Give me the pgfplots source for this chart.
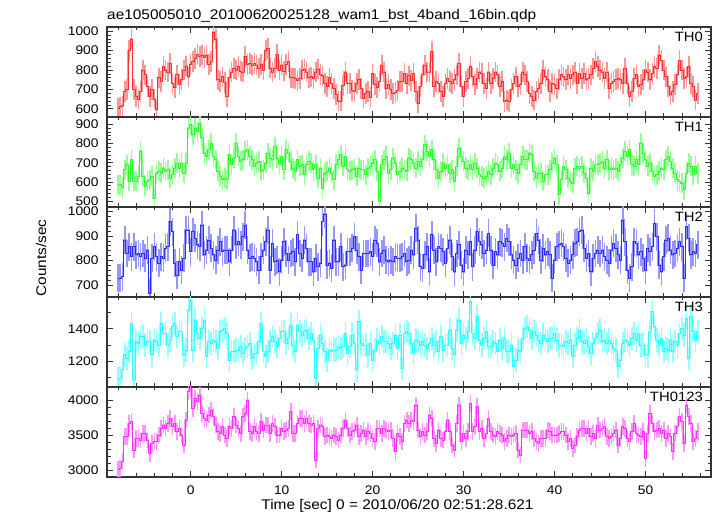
\documentclass[border=0pt]{standalone}
\usepackage{fontspec}
\setmainfont{Liberation Sans}[FakeStretch=1.1]
\usepackage{pgfplots}
\pgfplotsset{compat=1.18}
\usepackage{pgfplotstable}
\definecolor{cR}{RGB}{255,45,45}
\definecolor{cG}{RGB}{45,255,45}
\definecolor{cB}{RGB}{45,45,255}
\definecolor{cC}{RGB}{45,255,255}
\definecolor{cM}{RGB}{255,45,255}
\pgfplotstableread{
t a b c d e
-8.00 603 586 727 1090 3010
-7.75 610 586 727 1096 3024
-7.50 615 570 734 1147 3120
-7.25 690 664 884 1239 3481
-7.00 700 690 829 1218 3481
-6.75 900 603 857 1259 3673
-6.50 960 715 816 1433 3697
-6.25 700 603 857 1086 3288
-6.00 665 603 823 1320 3457
-5.75 650 630 829 1310 3457
-5.50 690 760 816 1351 3433
-5.25 800 630 829 1351 3529
-5.00 775 578 809 1300 3529
-4.75 715 603 843 1320 3433
-4.50 665 612 666 1320 3240
-4.25 700 630 809 1239 3385
-4.00 650 517 857 1330 3409
-3.75 595 647 816 1320 3409
-3.50 760 655 789 1300 3505
-3.25 740 647 816 1433 3601
-3.00 817 672 809 1371 3649
-2.75 800 655 850 1371 3601
-2.50 790 664 857 1300 3673
-2.25 835 621 959 1330 3745
-2.00 730 638 918 1412 3625
-1.75 710 672 789 1433 3673
-1.50 775 698 741 1351 3553
-1.25 725 672 795 1382 3601
-1.00 750 698 761 1382 3505
-0.75 800 647 809 1239 3361
-0.50 820 698 925 1269 3721
-0.25 765 880 925 1514 4130
0.00 830 897 836 1576 4178
0.25 845 845 918 1269 3889
0.50 860 880 891 1453 4034
0.75 880 862 864 1371 3986
1.00 870 905 857 1341 4082
1.25 877 830 945 1402 3817
1.50 865 750 823 1453 3745
1.75 877 733 843 1229 3721
2.00 830 767 884 1320 3793
2.25 845 802 850 1310 3865
2.50 995 733 823 1330 3769
2.75 960 715 802 1320 3649
3.00 750 655 843 1280 3553
3.25 740 630 877 1382 3529
3.50 765 612 836 1392 3625
3.75 735 621 843 1402 3505
4.00 665 612 843 1371 3457
4.25 760 741 795 1208 3625
4.50 790 690 843 1259 3601
4.75 808 724 925 1259 3769
5.00 800 802 864 1269 3649
5.25 817 733 877 1269 3601
5.50 795 707 864 1290 3529
5.75 790 715 898 1249 3769
6.00 870 759 945 1280 3817
6.25 830 767 843 1290 4010
6.50 835 733 809 1310 3553
6.75 826 715 816 1218 3529
7.00 835 681 809 1249 3625
7.25 826 698 795 1249 3553
7.50 810 707 761 1320 3529
7.75 830 655 816 1433 3697
8.00 800 664 843 1259 3577
8.25 900 698 877 1229 3649
8.50 910 750 925 1259 3649
8.75 810 724 761 1320 3529
9.00 790 715 870 1351 3673
9.25 810 784 795 1320 3625
9.50 880 724 802 1290 3505
9.75 800 690 754 1341 3505
10.00 826 733 802 1382 3601
10.25 795 664 877 1382 3553
10.50 830 767 829 1310 3577
10.75 843 750 802 1341 3601
11.00 760 707 829 1422 3841
11.25 760 672 836 1300 3529
11.50 757 655 795 1259 3529
11.75 745 715 905 1422 3673
12.00 757 681 829 1382 3745
12.25 800 690 809 1361 3745
12.50 805 638 884 1382 3673
12.75 790 690 850 1392 3745
13.00 760 707 795 1341 3673
13.25 765 698 795 1371 3649
13.50 757 664 754 1330 3673
13.75 790 690 809 1096 3144
14.00 805 621 775 1280 3601
14.25 778 672 789 1361 3649
14.50 770 569 959 1310 3625
14.75 730 647 990 1259 3481
15.00 715 655 782 1208 3505
15.25 760 672 789 1269 3481
15.50 730 647 768 1259 3457
15.75 705 612 884 1269 3505
16.00 675 690 795 1269 3481
16.25 640 715 795 1290 3433
16.50 640 741 857 1280 3505
16.75 720 681 775 1290 3601
17.00 790 733 782 1371 3721
17.25 730 664 836 1249 3601
17.50 730 655 836 1290 3505
17.75 695 664 850 1361 3553
18.00 690 672 898 1310 3577
18.25 730 630 843 1147 3649
18.50 750 672 816 1443 3481
18.75 705 664 761 1310 3529
19.00 655 664 829 1300 3577
19.25 680 638 829 1300 3481
19.50 690 672 829 1239 3553
19.75 660 681 836 1310 3529
20.00 780 698 816 1208 3457
20.25 725 715 884 1269 3409
20.50 710 655 870 1330 3601
20.75 740 500 795 1310 3601
21.00 826 690 829 1351 3529
21.25 790 715 843 1320 3601
21.50 705 733 802 1320 3577
21.75 725 647 795 1310 3553
22.00 700 664 802 1280 3577
22.25 680 724 795 1310 3457
22.50 685 698 816 1361 3264
22.75 695 638 809 1280 3529
23.00 740 655 809 1361 3481
23.25 740 672 816 1157 3409
23.50 783 664 829 1371 3673
23.75 730 655 795 1382 3721
24.00 770 724 802 1371 3673
24.25 745 715 843 1310 3721
24.50 783 698 823 1249 3697
24.75 690 672 932 1330 3937
25.00 630 707 884 1320 3577
25.25 715 681 775 1300 3481
25.50 775 715 768 1320 3553
25.75 826 793 823 1300 3505
26.00 790 759 857 1280 3553
26.25 790 733 754 1310 3793
26.50 895 767 905 1341 3745
26.75 715 715 843 1300 3457
27.00 740 664 795 1320 3385
27.25 730 621 857 1259 3577
27.50 690 655 850 1351 3457
27.75 665 698 836 1269 3433
28.00 730 672 789 1300 3553
28.25 757 690 850 1300 3721
28.50 740 647 884 1392 3553
28.75 730 664 816 1280 3361
29.00 750 603 754 1239 3288
29.25 775 681 829 1392 3673
29.50 835 776 864 1453 3937
29.75 715 733 782 1310 3409
30.00 665 707 754 1361 3529
30.25 740 672 843 1341 3457
30.50 757 664 823 1382 3553
30.75 817 690 877 1565 3961
31.00 765 664 775 1371 3553
31.25 725 698 843 1341 3625
31.50 757 672 918 1473 3913
31.75 790 638 877 1330 3553
32.00 783 630 864 1300 3601
32.25 730 621 829 1341 3457
32.50 705 630 843 1382 3529
32.75 790 655 911 1290 3745
33.00 730 638 843 1290 3553
33.25 757 672 782 1320 3505
33.50 790 698 836 1310 3481
33.75 775 690 823 1259 3553
34.00 715 655 877 1330 3529
34.25 740 672 870 1280 3505
34.50 638 733 857 1341 3409
34.75 645 715 891 1259 3457
35.00 638 750 877 1259 3505
35.25 700 672 823 1300 3481
35.50 730 690 802 1167 3505
35.75 765 664 782 1208 3529
36.00 715 647 809 1269 3288
36.25 725 690 829 1259 3216
36.50 790 733 802 1341 3577
36.75 775 715 857 1402 3577
37.00 740 715 809 1412 3577
37.25 680 750 802 1392 3529
37.50 665 741 823 1341 3553
37.75 645 655 843 1382 3457
38.00 690 621 911 1361 3409
38.25 705 647 884 1330 3385
38.50 730 647 802 1310 3457
38.75 800 603 850 1361 3457
39.00 765 638 823 1341 3457
39.25 750 638 836 1320 3577
39.50 690 664 823 1341 3553
39.75 730 698 727 1341 3505
40.00 725 724 802 1371 3505
40.25 705 690 857 1330 3505
40.50 750 534 864 1300 3529
40.75 775 612 870 1300 3553
41.00 765 681 857 1290 3553
41.25 750 664 809 1320 3505
41.50 775 621 789 1310 3409
41.75 757 603 802 1330 3457
42.00 775 595 823 1229 3312
42.25 790 672 870 1300 3361
42.50 730 681 877 1341 3481
42.75 783 672 918 1392 3577
43.00 757 681 925 1320 3601
43.25 783 647 850 1310 3601
43.50 750 621 809 1330 3529
43.75 757 543 829 1290 3601
44.00 775 672 754 1249 3481
44.25 808 655 809 1310 3529
44.50 843 690 829 1341 3457
44.75 817 690 843 1371 3649
45.00 800 698 829 1392 3577
45.25 790 707 843 1320 3601
45.50 757 672 816 1330 3625
45.75 790 715 802 1310 3481
46.00 705 664 789 1330 3457
46.25 730 672 843 1310 3481
46.50 740 664 870 1280 3529
46.75 750 672 850 1269 3577
47.00 757 655 823 1167 3361
47.25 750 690 802 1208 3457
47.50 730 724 966 1310 3625
47.75 808 759 877 1330 3601
48.00 730 733 761 1320 3457
48.25 665 767 727 1300 3409
48.50 690 690 775 1341 3553
48.75 757 681 877 1371 3673
49.00 775 715 870 1330 3529
49.25 715 690 823 1371 3505
49.50 725 802 836 1300 3481
49.75 750 750 809 1300 3553
50.00 800 715 761 1239 3168
50.25 790 681 850 1239 3529
50.50 750 698 836 1380 3817
50.75 783 655 857 1504 3673
51.00 817 630 952 1412 3553
51.25 808 638 898 1330 3577
51.50 877 655 782 1300 3601
51.75 850 672 754 1341 3529
52.00 800 664 816 1259 3577
52.25 765 715 884 1280 3457
52.50 715 733 891 1269 3529
52.75 672 707 843 1330 3481
53.00 690 672 823 1259 3264
53.25 725 647 829 1320 3529
53.50 775 612 850 1300 3625
53.75 850 603 877 1371 3769
54.00 800 595 857 1402 3697
54.25 757 560 727 1361 3385
54.50 765 647 939 1463 3937
54.75 817 698 891 1218 3769
55.00 730 681 823 1473 3673
55.25 715 638 836 1382 3409
55.50 645 681 829 1330 3457
55.75 680 647 864 1382 3553
}\lc
\pgfplotsset{
  panel/.style={
    scale only axis, width=604pt, height=90pt, anchor=south west,
    xmin=-9.2, xmax=57.2,
    xtick={0,10,...,50}, minor xtick={-8,-6,...,56},
    xticklabels={},
    tick align=inside,
    major tick length=6pt, minor tick length=3.5pt,
    axis line style={line width=1.1pt, black!80},
    major tick style={black!80, line width=0.8pt},
    minor tick style={black!80, line width=0.8pt},
    tick label style={font=\fontsize{12.5}{12.5}\selectfont},
    yticklabel style={xshift=-5pt},
    /pgf/number format/assume math mode=true,
    /pgf/number format/1000 sep={},
    scaled ticks=false,
    clip mode=individual,
  },
}
\tikzset{thlab/.style={anchor=base east, inner sep=0pt, xshift=-8pt, yshift=-15pt, font=\fontsize{13.5}{13.5}\selectfont}}
\newcommand{\panelplot}[3]{%
  \addplot[forget plot, color=#2!50!white, line width=1.5pt, const plot mark mid, mark=none,
    error bars/.cd, y dir=both, y fixed=#3, error mark=none,
    error bar style={line width=1.6pt, draw=#2!50!white, solid}]
    table[x=t,y=#1]{\lc};
  \addplot[#2, line width=0.9pt, const plot mark mid, mark=none] table[x=t,y=#1]{\lc};
}
\begin{document}
\begin{tikzpicture}
\path[use as bounding box] (0pt,0pt) rectangle (717pt,516pt);
\begin{axis}[panel, at={(107pt,399pt)}, ymin=558, ymax=1022,
  ytick={600,700,800,900,1000}, minor y tick num=4]
  \panelplot{a}{cR}{53}
  \node[thlab] at (rel axis cs:1,1) {TH0};
\end{axis}
\begin{axis}[panel, at={(107pt,309pt)}, ymin=470, ymax=938,
  ytick={500,600,700,800,900}, minor y tick num=4]
  \panelplot{b}{cG}{52}
  \node[thlab] at (rel axis cs:1,1) {TH1};
\end{axis}
\begin{axis}[panel, at={(107pt,219pt)}, ymin=651, ymax=1019,
  ytick={700,800,900,1000}, minor y tick num=4]
  \panelplot{c}{cB}{57}
  \node[thlab] at (rel axis cs:1,1) {TH2};
\end{axis}
\begin{axis}[panel, at={(107pt,129pt)}, ymin=1042, ymax=1595,
  ytick={1200,1400}, minor ytick={1100,1300,1500}]
  \panelplot{d}{cC}{72}
  \node[thlab] at (rel axis cs:1,1) {TH3};
\end{axis}
\begin{axis}[panel, at={(107pt,39pt)}, ymin=2899, ymax=4197,
  ytick={3000,3500,4000}, minor y tick num=4,
  xticklabels={0,10,20,30,40,50}, xticklabel style={yshift=-5pt}]
  \panelplot{e}{cM}{119}
  \node[thlab] at (rel axis cs:1,1) {TH0123};
\end{axis}
\node[anchor=base west, inner sep=0pt, font=\fontsize{14}{14}\selectfont] at (107pt,496pt) {ae105005010\_20100620025128\_wam1\_bst\_4band\_16bin.qdp};
\node[anchor=base, inner sep=0pt, font=\fontsize{14}{14}\selectfont] at (397.5pt,6pt) {Time [sec] 0 = 2010/06/20 02:51:28.621};
\node[rotate=90, inner sep=0pt, font=\fontsize{14}{14}\selectfont] at (41pt,258pt) {Counts/sec};
\end{tikzpicture}
\end{document}
